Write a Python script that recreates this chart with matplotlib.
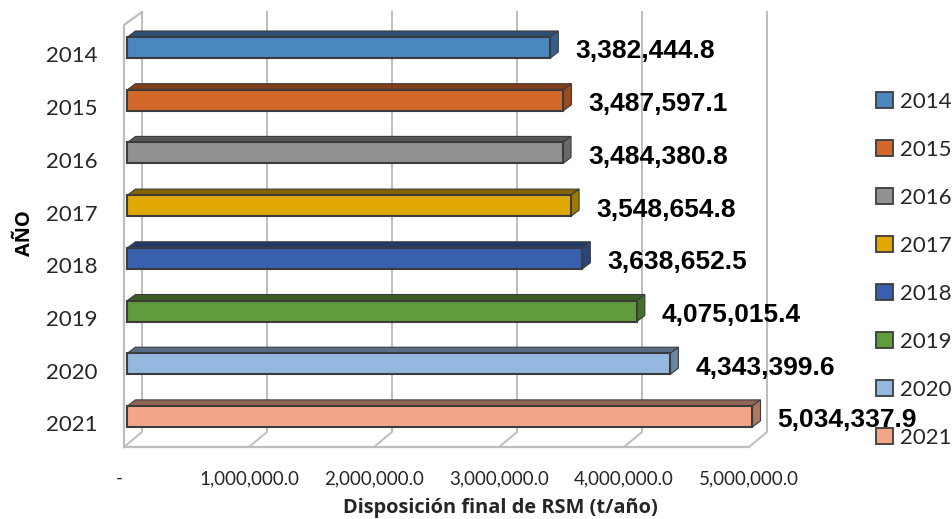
import numpy as np
import matplotlib
matplotlib.use("Agg")
import matplotlib.pyplot as plt
from matplotlib.patches import Patch
from matplotlib.colors import to_rgb
from matplotlib.transforms import ScaledTranslation

years = ["2014", "2015", "2016", "2017", "2018", "2019", "2020", "2021"]
disposal = [3382444.8, 3487597.1, 3484380.8, 3548654.8, 3638652.5, 4075015.4, 4343399.6, 5034337.9]
colors = ["#4A86C0", "#D2692A", "#929292", "#E0A800", "#3860AE", "#609B3C", "#94B8E0", "#F2A68A"]
x_ticks = [0, 1000000, 2000000, 3000000, 4000000, 5000000]
x_labels = ["-", "1,000,000.0", "2,000,000.0", "3,000,000.0", "4,000,000.0", "5,000,000.0"]

W, H = 953, 519
X_MAX = 5000000

# plot box in pixels, the 3d look is faked with pixel offsets
left, right, top, floor = 124, 749, 12, 447
first_y, row = 47.5, 52.7
px_x = X_MAX / (right - left)
px_y = 1 / row
grid = "#bdbdbd"
edge = "#3c3c3c"


def shade(c, f):
    return tuple(v * f for v in to_rgb(c))


fig = plt.figure(figsize=(W / 100, H / 100), dpi=100)
ax = fig.add_axes([left / W, 1 - floor / H, (right - left) / W, (floor - top) / H])
ax.set_xlim(0, X_MAX)
ax.set_ylim((floor - first_y) * px_y, (top - first_y) * px_y)
for s in ax.spines.values():
    s.set_visible(False)

y_low, y_top = ax.get_ylim()
wall_dx, wall_dy = 18 * px_x, 15 * px_y

# walls and floor
ax.plot([0, 0, wall_dx], [y_low, y_top + wall_dy - 2 * px_y, y_top], color=grid, lw=1.6, clip_on=False)
ax.plot([0, X_MAX], [y_low, y_low], color=grid, lw=1.6, clip_on=False)
for t in x_ticks:
    ax.plot([t + wall_dx, t + wall_dx, t], [y_top, y_low - wall_dy, y_low], color=grid, lw=1.4, clip_on=False)

# bars, excel cuts the last one at the axis maximum
y = np.arange(len(years))
shown = np.minimum(disposal, X_MAX)
start = 3.5 * px_x
dx, dy = 8 * px_x, 6 * px_y
h = 21 * px_y
ax.barh(y, shown, left=start, height=h, color=colors, edgecolor=edge, lw=1.5, zorder=3, clip_on=False)
for i, v in enumerate(shown):
    end = start + v
    up = i - h / 2
    down = i + h / 2
    ax.fill([start, start + dx, end + dx, end], [up, up - dy, up - dy, up],
            facecolor=shade(colors[i], 0.6), edgecolor=edge, lw=0.8, zorder=2, clip_on=False)
    ax.fill([end, end + dx, end + dx, end], [up, up - dy, down - dy, down],
            facecolor=shade(colors[i], 0.72), edgecolor=edge, lw=0.8, zorder=2, clip_on=False)
    ax.text(end + 25 * px_x, i + 4 * px_y, f"{disposal[i]:,.1f}", family="Liberation Sans",
            fontweight="bold", fontsize=19, color="black", va="center", ha="left", zorder=6)

ax.set_xticks(x_ticks)
ax.set_xticklabels(x_labels, family="Lato", fontsize=13.5, color="#262626")
ax.set_yticks(y)
ax.set_yticklabels(years, family="Lato", fontsize=16, color="#262626")
ax.tick_params(axis="x", length=0, pad=16.5)
ax.tick_params(axis="y", length=0, pad=19)
for lab in ax.get_yticklabels():
    lab.set_transform(lab.get_transform() + ScaledTranslation(0, -7 / 100, fig.dpi_scale_trans))
zero = ax.get_xticklabels()[0]
zero.set_transform(zero.get_transform() + ScaledTranslation(-5 / 100, 0, fig.dpi_scale_trans))

fig.text(500 / W, 1 - 508 / H, "Disposición final de RSM (t/año)", family="Open Sans",
         fontweight="bold", fontsize=14.4, ha="center", va="center", color="#262626")
fig.text(25 / W, 1 - 233 / H, "AÑO", family="Open Sans", fontweight="bold", fontsize=14.4,
         rotation=90, ha="center", va="center", color="black")

handles = [Patch(facecolor=c, edgecolor=edge, lw=1.3) for c in colors]
leg = fig.legend(handles, years, loc="upper left", bbox_to_anchor=(858 / W, 1 - 74 / H), frameon=False,
                 prop={"family": "Lato", "size": 16}, labelspacing=1.26, handlelength=0.78,
                 handleheight=0.7, handletextpad=0.3, borderpad=0.3, labelcolor="#262626")
leg.set_zorder(1)

fig.savefig("out.png", dpi=100)
